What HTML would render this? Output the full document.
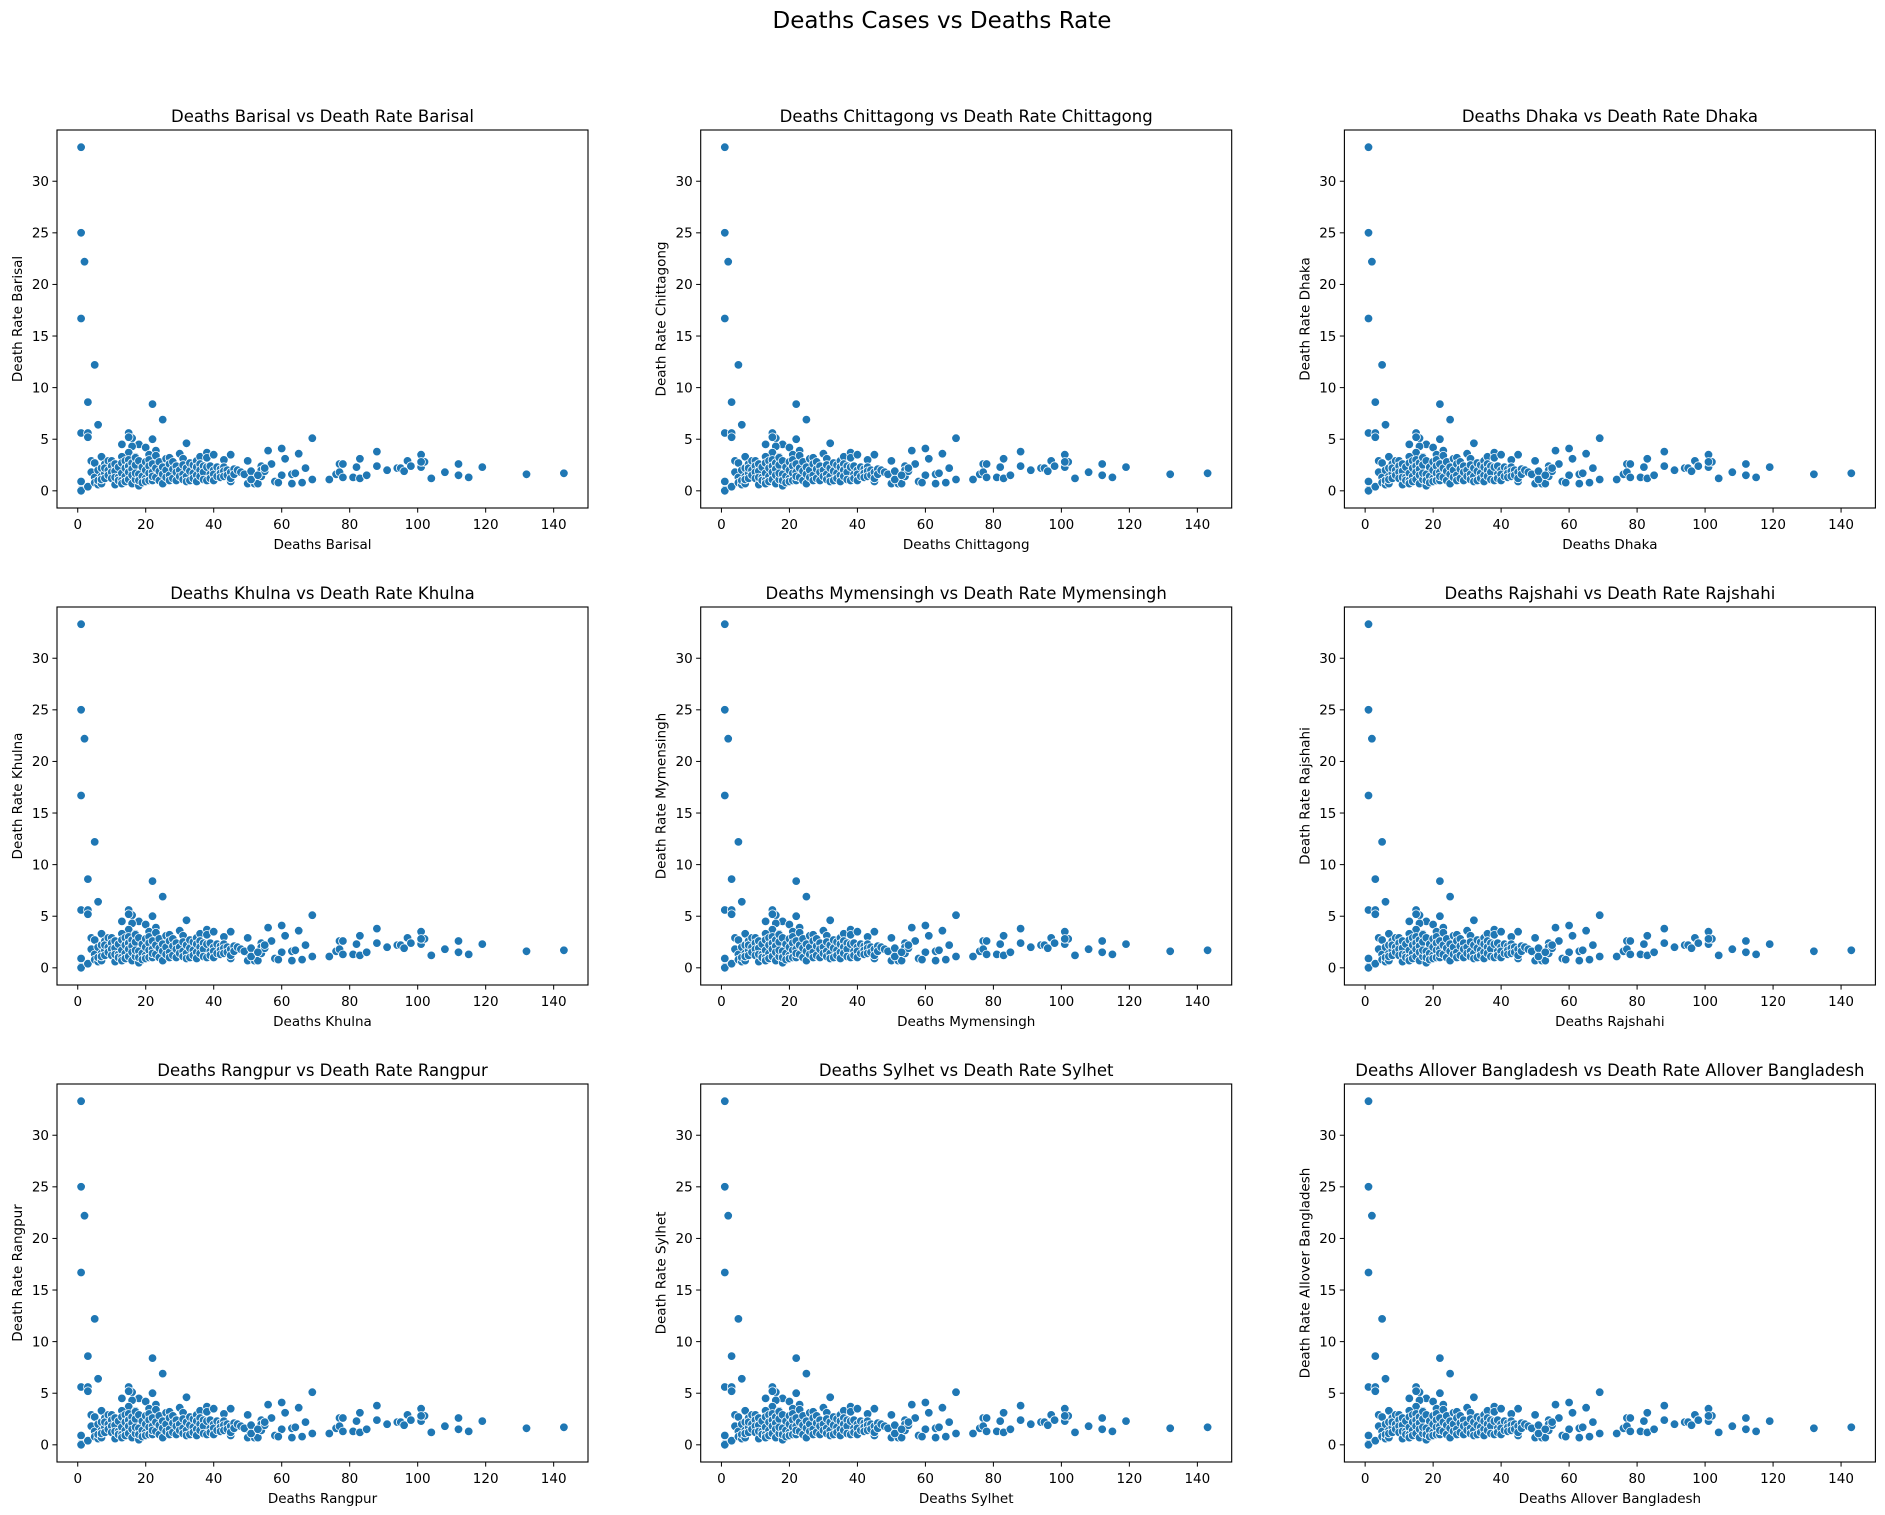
<!DOCTYPE html>
<html><head><meta charset="utf-8"><style>
html,body{margin:0;padding:0;background:#fff;}
svg{display:block;font-family:"DejaVu Sans","Liberation Sans",sans-serif;}
</style></head><body>
<svg id="fig" width="1885" height="1515" viewBox="0 0 1885 1515" xmlns="http://www.w3.org/2000/svg">
<rect width="1885" height="1515" fill="#fff"/>
<text x="942" y="28" text-anchor="middle" font-size="23" fill="#000">Deaths Cases vs Deaths Rate</text>
</svg>
<script>
const regions = ["Barisal","Chittagong","Dhaka","Khulna","Mymensingh","Rajshahi","Rangpur","Sylhet","Allover Bangladesh"];
const xTicks = [0,20,40,60,80,100,120,140];
const yTicks = [0,5,10,15,20,25,30];
const deaths = [1,1,2,1,5,3,6,1,3,3,22,25,1,1,1,3,69,32,15,16,15,18,13,20,22,16,23,21,15,17,
56,60,65,61,57,67,63,64,60,58,59,63,66,69,74,76,77,78,77,78,81,82,83,83,85,88,88,91,94,95,96,97,98,101,101,102,101,104,108,112,112,115,119,132,143,
50,50,50,52,53,54,54,54,55,47,45,45,43,40,38,36,
4,4,5,5,5,6,6,6,7,7,7,7,7,8,8,8,8,9,9,9,10,10,10,10,11,11,11,11,12,12,12,13,13,13,13,13,14,14,14,14,15,15,15,15,16,16,16,16,17,17,17,17,18,18,18,18,19,19,19,20,20,20,20,21,21,21,21,22,22,22,22,23,23,23,24,24,24,25,25,25,26,26,26,27,27,27,27,28,28,28,29,29,29,30,30,30,31,31,31,31,32,32,32,33,33,33,34,34,34,35,35,35,35,36,36,36,36,37,37,37,38,38,38,38,39,39,39,40,40,40,40,41,41,42,42,42,43,43,43,43,44,44,45,45,46,46,47,48,49,51,51,53,55];
const deathRate = [33.3,25,22.2,16.7,12.2,8.6,6.4,5.6,5.6,5.2,8.4,6.9,0.9,0.1,0,0.4,5.1,4.6,5.6,5.1,5.2,4.5,4.5,4.2,5.0,4.3,3.9,3.5,3.7,3.3,
3.9,4.1,3.6,3.1,2.6,2.2,1.6,1.7,1.5,0.9,0.8,0.7,0.8,1.1,1.1,1.6,2.6,2.6,1.8,1.3,1.3,2.3,3.1,1.2,1.5,3.8,2.4,2.0,2.2,2.2,1.9,2.9,2.4,3.5,2.3,2.8,2.8,1.2,1.8,2.6,1.5,1.3,2.3,1.6,1.7,
2.9,1.5,0.7,0.7,0.7,2.4,1.4,2.0,1.9,1.9,3.5,0.9,3.0,3.5,3.6,3.2,
2.9,1.8,2.7,1.3,0.8,0.6,1.0,2.0,3.3,2.2,1.4,0.7,1.1,2.6,1.7,1.2,2.2,2.9,2.0,1.5,2.9,2.4,1.8,1.2,2.6,1.9,0.6,1.3,2.3,1.3,1.0,3.3,2.7,1.7,1.0,0.7,2.9,2.2,1.4,0.9,3.0,2.4,1.8,1.1,2.7,2.1,1.5,0.7,3.2,2.5,1.1,1.7,2.9,1.6,0.5,1.0,2.3,1.4,0.8,2.8,2.0,1.2,0.9,3.0,2.4,1.7,1.0,2.6,1.8,1.0,1.4,3.4,2.2,1.3,2.8,1.9,1.0,2.3,1.6,0.7,3.1,2.0,1.3,3.2,2.6,1.5,1.0,2.8,2.1,1.2,2.4,1.8,1.0,3.6,2.0,1.4,3.1,2.5,1.6,1.1,2.2,1.4,0.9,2.7,1.9,1.0,2.5,1.7,1.2,2.9,2.3,1.5,0.9,3.3,2.6,2.0,1.4,2.4,1.8,1.1,3.7,3.2,2.3,1.0,2.4,1.6,1.2,3.5,2.0,1.6,1.0,2.3,1.4,2.1,1.7,1.3,3.0,2.3,1.9,1.4,2.0,1.5,1.8,1.2,2.1,1.6,2.0,1.8,1.6,1.9,1.1,1.5,2.2];

const NS = "http://www.w3.org/2000/svg";
const svg = document.getElementById("fig");
const colLeft = [57, 700.7, 1344.4], rowTop = [130, 607, 1084];
const W = 531, H = 378;
function mk(tag, attrs, parent){const e=document.createElementNS(NS,tag);for(const k in attrs)e.setAttribute(k,attrs[k]);(parent||svg).appendChild(e);return e;}
const xMin0 = Math.min(...deaths), xMax0 = Math.max(...deaths);
const yMin0 = Math.min(...deathRate), yMax0 = Math.max(...deathRate);
const xPad = (xMax0-xMin0)*0.05, yPad = (yMax0-yMin0)*0.05;
const xLo = xMin0-xPad, xHi = xMax0+xPad, yLo = yMin0-yPad, yHi = yMax0+yPad;

regions.forEach((r, i) => {
  const L = colLeft[i%3], T = rowTop[Math.floor(i/3)];
  const sx = v => L + (v - xLo)/(xHi - xLo)*W;
  const sy = v => T + H - (v - yLo)/(yHi - yLo)*H;
  const g = mk("g", {});
  
  
  const pts = mk("g", {}, g);
  
  
  for (let k = 0; k < deaths.length; k++) {
    const c = mk("circle", {cx: sx(deaths[k]).toFixed(1), cy: sy(deathRate[k]).toFixed(1), r: 4.3, fill: "#1f77b4", stroke: "#fff", "stroke-width": 0.8}, pts);
    
    
  }
  const frame = mk("rect", {x: L, y: T, width: W, height: H, fill: "none", stroke: "#000", "stroke-width": 1.1}, g);
  
  
  xTicks.forEach(t => {
    const x = sx(t);
    mk("line", {x1: x, x2: x, y1: T+H, y2: T+H+4.6, stroke: "#000", "stroke-width": 1}, g);
    const tl = mk("text", {x: x, y: T+H+21, "text-anchor": "middle", "font-size": 13.5, fill: "#000"}, g);
    tl.textContent = t;
    
    
  });
  yTicks.forEach(t => {
    const y = sy(t);
    mk("line", {x1: L-4.6, x2: L, y1: y, y2: y, stroke: "#000", "stroke-width": 1}, g);
    const tl = mk("text", {x: L-8, y: y+4.8, "text-anchor": "end", "font-size": 13.5, fill: "#000"}, g);
    tl.textContent = t;
    
    
  });
  const ti = mk("text", {x: L+W/2, y: T-8, "text-anchor": "middle", "font-size": 16.5, fill: "#000"}, g);
  ti.textContent = "Deaths " + r + " vs Death Rate " + r;
  
  
  const xl = mk("text", {x: L+W/2, y: T+H+41, "text-anchor": "middle", "font-size": 13.5, fill: "#000"}, g);
  xl.textContent = "Deaths " + r;
  
  
  const yl = mk("text", {x: 0, y: 0, "text-anchor": "middle", "font-size": 13.5, fill: "#000", transform: `translate(${L-35},${T+H/2}) rotate(-90)`}, g);
  yl.textContent = "Death Rate " + r;
  
  
});
</script>
</body></html>
